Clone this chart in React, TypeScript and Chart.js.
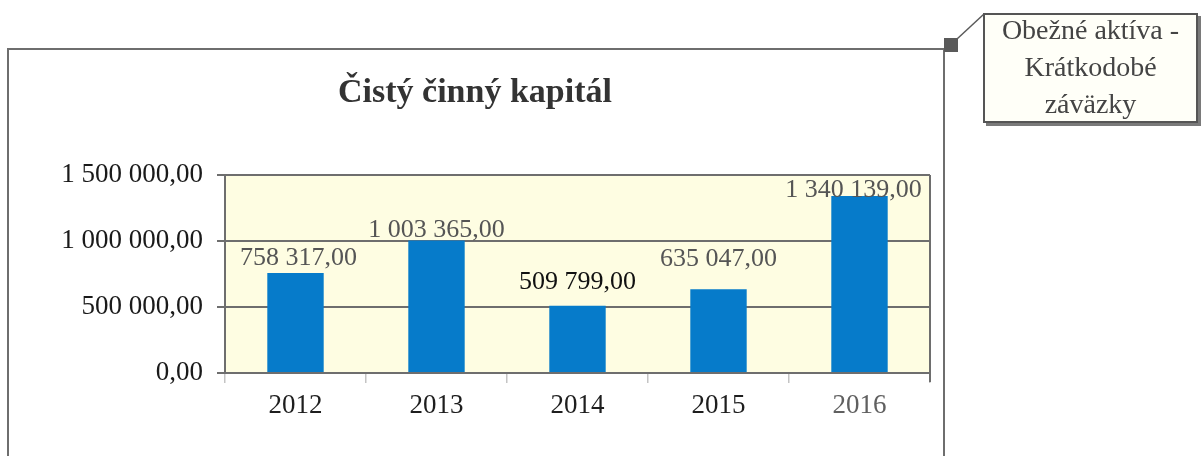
import React, { useEffect, useRef } from 'react';
import { Chart, registerables } from 'chart.js';

Chart.register(...registerables);

// ---- data ----
const categories = ['2012', '2013', '2014', '2015', '2016'];
const values = [758317, 1003365, 509799, 635047, 1340139];
const yTickValues = [0, 500000, 1000000, 1500000];
const titleText = 'Čistý činný kapitál';
const calloutLines = ['Obežné aktíva -', 'Krátkodobé', 'záväzky'];

// ---- styles ----
const FONT = "'Liberation Serif', 'Times New Roman', serif";
const labelColors = ['#555555', '#555555', '#111111', '#555555', '#555555'];
const labelLift = [8, 4, 17, 23, -1];
const labelShiftX = [3, 0, 0, 0, -6];
const xTickColors = ['#1e1e1e', '#1e1e1e', '#1e1e1e', '#1e1e1e', '#606060'];
const AXIS_GRAY = '#6e6e6e';

function fmt(v: number): string {
  const s = Math.round(v).toString().replace(/\B(?=(\d{3})+(?!\d))/g, ' ');
  return s + ',00';
}

const bgPlugin = {
  id: 'plotBg',
  beforeDraw(chart: any) {
    const { ctx, chartArea } = chart;
    if (!chartArea) return;
    ctx.save();
    ctx.fillStyle = '#fefde2';
    ctx.fillRect(chartArea.left, chartArea.top, chartArea.right - chartArea.left, chartArea.bottom - chartArea.top);
    ctx.restore();
  },
};

const borderPlugin = {
  id: 'plotBorder',
  afterDraw(chart: any) {
    const { ctx, chartArea } = chart;
    ctx.save();
    ctx.strokeStyle = AXIS_GRAY;
    ctx.lineWidth = 2;
    ctx.beginPath();
    ctx.moveTo(chartArea.right, chartArea.top);
    ctx.lineTo(chartArea.right, chartArea.bottom + 9);
    ctx.moveTo(chartArea.left - 1, chartArea.top);
    ctx.lineTo(chartArea.right, chartArea.top);
    ctx.stroke();
    ctx.restore();
  },
};

const labelPlugin = {
  id: 'valueLabels',
  afterDatasetsDraw(chart: any) {
    const { ctx } = chart;
    const meta = chart.getDatasetMeta(0);
    ctx.save();
    ctx.font = `26px ${FONT}`;
    ctx.textAlign = 'center';
    ctx.textBaseline = 'alphabetic';
    meta.data.forEach((bar: any, i: number) => {
      ctx.fillStyle = labelColors[i];
      ctx.fillText(fmt(values[i]), bar.x + labelShiftX[i], bar.y - labelLift[i]);
    });
    ctx.restore();
  },
};

export default function App() {
  const canvasRef = useRef<HTMLCanvasElement | null>(null);

  useEffect(() => {
    if (!canvasRef.current) return;
    const chart = new Chart(canvasRef.current, {
      type: 'bar',
      data: {
        labels: categories,
        datasets: [
          {
            data: values,
            backgroundColor: '#067bca',
            borderWidth: 0,
            barPercentage: 0.4,
            categoryPercentage: 1.0,
          },
        ],
      },
      options: {
        animation: false,
        responsive: false,
        devicePixelRatio: 1,
        layout: { padding: { left: 0, top: 175, right: 274, bottom: 0 } },
        plugins: {
          legend: { display: false },
          title: { display: false },
          tooltip: { enabled: false },
        },
        scales: {
          x: {
            afterFit: (scale: any) => {
              scale.height = 83;
            },
            ticks: {
              font: { size: 27, family: FONT },
              color: (ctx: any) => xTickColors[ctx.index] || '#1e1e1e',
              padding: 7,
            },
            grid: {
              display: true,
              drawOnChartArea: false,
              drawTicks: true,
              tickLength: 10,
              color: '#c4c4c4',
              lineWidth: 1.5,
            },
            border: { display: true, color: AXIS_GRAY, width: 2 },
          },
          y: {
            min: 0,
            max: 1500000,
            afterBuildTicks: (scale: any) => {
              scale.ticks = yTickValues.map((v) => ({ value: v }));
            },
            afterFit: (scale: any) => {
              scale.width = 225;
            },
            ticks: {
              callback: (v: any) => fmt(Number(v)),
              font: { size: 27, family: FONT },
              color: '#1a1a1a',
              padding: 14,
            },
            grid: {
              color: AXIS_GRAY,
              lineWidth: 2,
              drawTicks: true,
              tickLength: 8,
            },
            border: { display: true, color: AXIS_GRAY, width: 2 },
          },
        },
      },
      plugins: [bgPlugin, borderPlugin, labelPlugin],
    });
    return () => chart.destroy();
  }, []);

  return (
    <div
      style={{
        position: 'absolute',
        left: 0,
        top: 0,
        width: 1204,
        height: 456,
        overflow: 'hidden',
        background: '#ffffff',
      }}
    >
      {/* outer chart frame */}
      <div
        style={{
          position: 'absolute',
          left: 7,
          top: 48,
          width: 938,
          height: 460,
          boxSizing: 'border-box',
          borderLeft: `2px solid ${AXIS_GRAY}`,
          borderTop: `2px solid ${AXIS_GRAY}`,
          borderRight: `2px solid ${AXIS_GRAY}`,
        }}
      />
      <canvas
        ref={canvasRef}
        width={1204}
        height={456}
        style={{ position: 'absolute', left: 0, top: 0, width: 1204, height: 456 }}
      />
      {/* title */}
      <div
        style={{
          position: 'absolute',
          left: 0,
          top: 74,
          width: 950,
          textAlign: 'center',
          fontFamily: FONT,
          fontWeight: 'bold',
          fontSize: 34,
          lineHeight: '34px',
          color: '#333333',
          whiteSpace: 'nowrap',
        }}
      >
        {titleText}
      </div>
      {/* selection handle and leader line */}
      <div
        style={{
          position: 'absolute',
          left: 944,
          top: 38,
          width: 14,
          height: 14,
          background: '#5a5a5a',
        }}
      />
      <svg
        width={1204}
        height={456}
        style={{ position: 'absolute', left: 0, top: 0, pointerEvents: 'none' }}
      >
        <line x1={957} y1={39} x2={984} y2={14} stroke="#5a5a5a" strokeWidth={1.5} />
      </svg>
      {/* callout */}
      <div
        style={{
          position: 'absolute',
          left: 983,
          top: 13,
          width: 215,
          height: 110,
          boxSizing: 'border-box',
          border: '2px solid #555555',
          background: '#fffff8',
          boxShadow: '3px 3px 0 #7a7a7a',
        }}
      />
      <div
        style={{
          position: 'absolute',
          left: 983,
          top: 11,
          width: 215,
          textAlign: 'center',
          fontFamily: FONT,
          fontSize: 28,
          lineHeight: '37px',
          color: '#444444',
        }}
      >
        {calloutLines.map((l, i) => (
          <div key={i}>{l}</div>
        ))}
      </div>
    </div>
  );
}
